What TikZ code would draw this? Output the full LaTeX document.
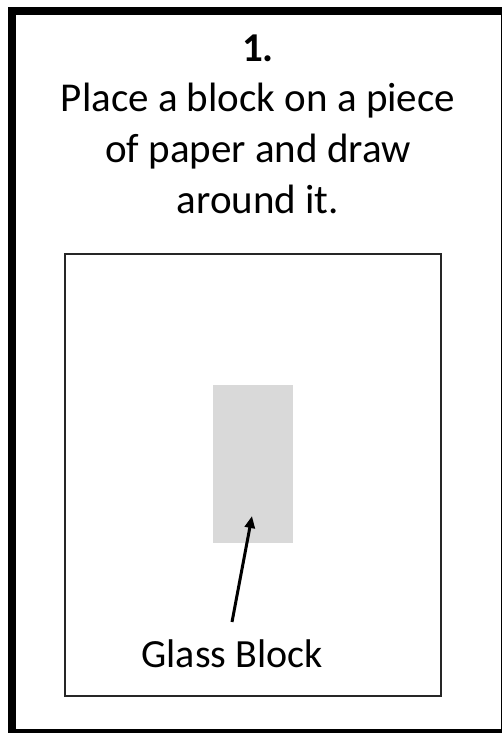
\documentclass[tikz,border=0pt]{standalone}
\usepackage{fontspec}
\setmainfont{Carlito}
\usetikzlibrary{arrows.meta}
\definecolor{blockgray}{HTML}{D9D9D9}
\tikzset{
  outerframe/.style={draw=black, line width=8pt},
  paper/.style={draw=black!85, line width=2pt, inner sep=0pt, minimum width=376pt, minimum height=442pt},
  glass/.style={fill=blockgray, inner sep=0pt, minimum width=80pt, minimum height=158pt},
  pointer/.style={draw=black, line width=3pt, -{Triangle[length=12pt,width=10pt]}},
  title/.style={align=center, font=\fontsize{41}{50}\selectfont, inner sep=0pt, anchor=base},
  label/.style={font=\fontsize{40}{46}\selectfont, inner sep=0pt, anchor=base}
}
\begin{document}
\begin{tikzpicture}[x=1pt,y=-1pt]
\useasboundingbox (0,0) rectangle (502,733);
\fill[white] (0,0) rectangle (502,733);
\begin{scope}
\clip (0,0) rectangle (502,733);
\draw[outerframe] (12,11) rectangle (505,733);
\end{scope}
\node[title, font=\bfseries\fontsize{41}{50}\selectfont] (num) at (258,62) {1.};
\node[title] (l1) at (258,112) {Place a block on a piece};
\node[title] (l2) at (258,162) {of paper and draw};
\node[title] (l3) at (258,213) {around it.};
\node[paper] (paperbox) at (253,475) {};
\node[glass] (block) at (253,464) {};
\coordinate (tip) at (252,516);
\coordinate (tail) at (232,622);
\node[label] (gl) at (232,667) {Glass Block};
\draw[pointer] (tail) -- (tip);
\end{tikzpicture}
\end{document}
